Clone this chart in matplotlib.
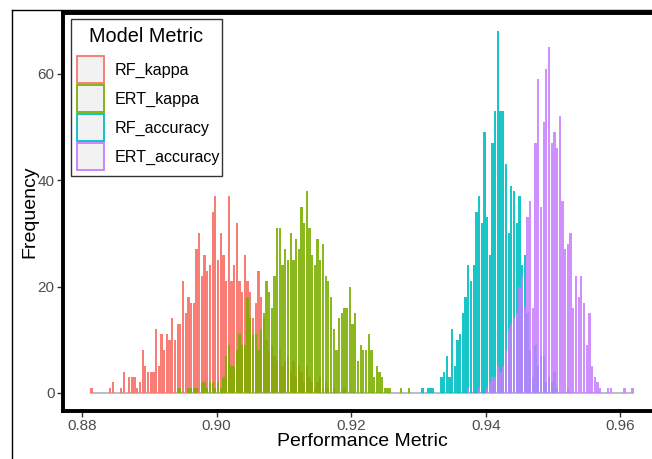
import matplotlib
matplotlib.use("Agg")
import matplotlib.pyplot as plt
from matplotlib.patches import Rectangle
from matplotlib.lines import Line2D

plt.rcParams['font.family'] = ['Liberation Sans', 'DejaVu Sans']

# ---- data (histogram counts) ----
BIN_START = 0.8814      # centre of the first bin
BIN_WIDTH = 0.0004

metrics = ["RF_kappa", "ERT_kappa", "RF_accuracy", "ERT_accuracy"]
colors = ["#F8766D", "#7CAE00", "#00BFC4", "#C77CFF"]

rf_kappa_first_bin = 0
rf_kappa_counts = [1, 0, 0, 0, 0, 0, 0, 1, 2, 0,
                   0, 1, 4, 0, 3, 3, 3, 1, 2, 8,
                   5, 4, 4, 4, 12, 5, 11, 8, 11, 10,
                   14, 10, 13, 13, 21, 15, 18, 17, 17, 27,
                   30, 22, 26, 23, 24, 34, 37, 25, 30, 26,
                   21, 37, 21, 24, 32, 21, 19, 26, 21, 19,
                   14, 17, 23, 18, 14, 10, 8, 9, 7, 6,
                   8, 5, 6, 7, 4, 6, 3, 5, 4, 2,
                   5, 3, 2, 1, 2, 3, 1, 2, 1, 0,
                   1, 0, 0, 0, 1]

ert_kappa_first_bin = 32
ert_kappa_counts = [1, 1, 0, 0, 1, 1, 1, 1, 0, 2,
                    2, 1, 2, 2, 1, 2, 1, 3, 7, 9,
                    5, 5, 8, 11, 9, 9, 18, 14, 11, 11,
                    8, 12, 15, 21, 19, 16, 22, 31, 31, 24,
                    27, 25, 30, 25, 29, 27, 35, 32, 38, 31,
                    26, 24, 29, 25, 28, 22, 21, 18, 12, 8,
                    14, 15, 16, 16, 20, 13, 15, 6, 9, 8,
                    8, 11, 8, 3, 5, 4, 3, 1, 1, 1,
                    0, 0, 0, 1, 0, 0, 1]

rf_accuracy_first_bin = 123
rf_accuracy_counts = [1, 0, 1, 1, 1, 0, 0, 3, 4, 7,
                      3, 12, 5, 10, 11, 15, 18, 24, 21, 24,
                      34, 37, 32, 49, 33, 26, 47, 53, 68, 53,
                      53, 43, 30, 39, 38, 32, 37, 24, 26, 15,
                      8, 3, 9, 5, 7, 7, 2, 3, 2, 4,
                      1, 0, 0, 0, 1]

ert_accuracy_first_bin = 140
ert_accuracy_counts = [1, 0, 0, 0, 1, 0, 0, 1, 2, 3,
                       3, 5, 4, 5, 8, 12, 13, 14, 15, 20,
                       22, 16, 33, 36, 16, 47, 59, 35, 51, 61,
                       65, 47, 49, 46, 52, 36, 27, 28, 30, 16,
                       22, 18, 22, 17, 9, 15, 5, 3, 2, 1,
                       0, 0, 1, 1, 0, 0, 0, 0, 1, 0,
                       0, 1]

N_BINS = 202

x_ticks = [0.88, 0.90, 0.92, 0.94, 0.96]
x_tick_labels = ["0.88", "0.90", "0.92", "0.94", "0.96"]
y_ticks = [0, 20, 40, 60]

series = [
    (rf_kappa_first_bin, rf_kappa_counts),
    (ert_kappa_first_bin, ert_kappa_counts),
    (rf_accuracy_first_bin, rf_accuracy_counts),
    (ert_accuracy_first_bin, ert_accuracy_counts),
]

# ---- figure ----
W, H = 652, 459
fig = plt.figure(figsize=(W / 100, H / 100), dpi=100)
fig.patch.set_facecolor("white")


def fx(px):
    return px / W


def fy(py):
    return 1 - py / H


ax_left, ax_right, ax_top, ax_bottom = 63, 661, 13.2, 411
ax = fig.add_axes([fx(ax_left), fy(ax_bottom),
                   (ax_right - ax_left) / W, (ax_bottom - ax_top) / H])
ax.set_facecolor("white")

# zero-height bins drawn as a baseline
first_edge = BIN_START - BIN_WIDTH / 2
last_edge = BIN_START + (N_BINS - 1) * BIN_WIDTH + BIN_WIDTH / 2
ax.plot([first_edge, last_edge], [0, 0], color="#A7A9BE", lw=1.1,
        solid_capstyle="butt", zorder=1)

alphas = [0.95, 0.88, 0.9, 0.85]
for (first, counts), col, a in zip(series, colors, alphas):
    xs = [BIN_START + (first + i) * BIN_WIDTH for i in range(len(counts))]
    xs_nz = [x for x, c in zip(xs, counts) if c > 0]
    cs_nz = [c for c in counts if c > 0]
    ax.bar(xs_nz, cs_nz, width=BIN_WIDTH * 0.84, color=col, alpha=a,
           linewidth=0, zorder=2)

ax.set_xlim(0.87716, 0.96604)
ax.set_ylim(-3.4, 71.4)
ax.set_xticks(x_ticks)
ax.set_xticklabels(x_tick_labels)
ax.set_yticks(y_ticks)

for s in ax.spines.values():
    s.set_linewidth(2.8)
    s.set_color("black")
ax.tick_params(direction="out", length=4, width=1.0, color="#333333",
               labelcolor="#4D4D4D", labelsize=11, pad=2)

ax.set_xlabel("Performance Metric", fontsize=14, color="black", va="center")
ax.xaxis.set_label_coords(0.5, -(441 - ax_bottom) / (ax_bottom - ax_top))
ax.set_ylabel("Frequency", fontsize=14, color="black", va="center")
ax.yaxis.set_label_coords(-(ax_left - 30) / (ax_right - ax_left), 0.5)

# ---- legend (drawn in figure pixels) ----
leg_l, leg_t, leg_r, leg_b = 71, 19, 222, 176
fig.add_artist(Rectangle((fx(leg_l), fy(leg_b)), (leg_r - leg_l) / W,
                         (leg_b - leg_t) / H, transform=fig.transFigure,
                         facecolor="white", edgecolor="#333333", lw=1.0,
                         zorder=5))
fig.text(fx(146.5), fy(37), "Model Metric", fontsize=14.3, color="black",
         ha="center", va="center", zorder=6)
key_size = 27
for i, (m, c) in enumerate(zip(metrics, colors)):
    top = 56 + 29 * i
    fig.add_artist(Rectangle((fx(77), fy(top + key_size)), key_size / W,
                             key_size / H, transform=fig.transFigure,
                             facecolor="#F2F2F2", edgecolor=c, lw=1.3,
                             zorder=6))
    fig.text(fx(115), fy(top + key_size / 2 + 0.5), m, fontsize=11.6,
             color="black", ha="left", va="center", zorder=6)

# outer thin frame of the picture
fig.add_artist(Line2D([fx(12), fx(12)], [0, fy(10)], color="black",
                      lw=1.0, transform=fig.transFigure))
fig.add_artist(Line2D([fx(12), 1], [fy(10), fy(10)], color="black",
                      lw=1.0, transform=fig.transFigure))

fig.savefig("out.png", dpi=100)
